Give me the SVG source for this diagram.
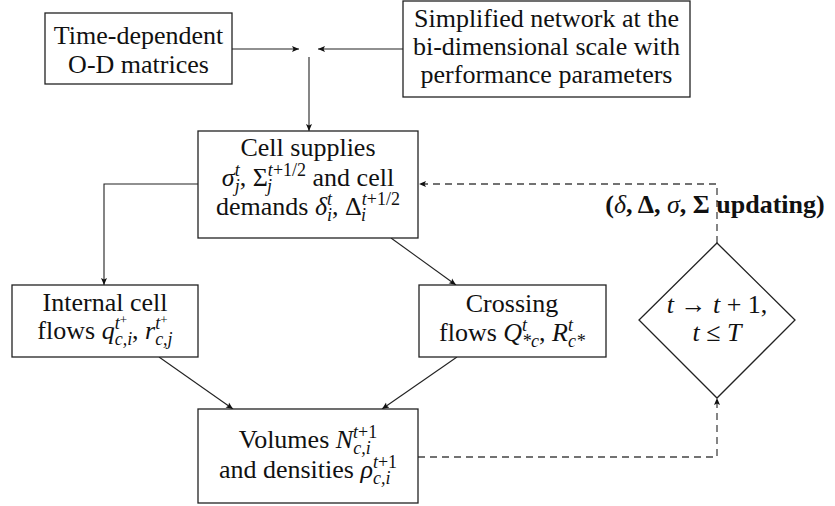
<svg xmlns="http://www.w3.org/2000/svg" width="835" height="506" viewBox="0 0 835 506">
<style>
  .box { fill: #ffffff; stroke: #222; stroke-width: 1.3; }
  .t { font-family: 'Liberation Serif', 'Times New Roman', 'DejaVu Serif', serif; font-size: 26px; fill: #111; text-anchor: middle; }
  .i { font-style: italic; }
  .s { font-size: 18px; }
  .ss { font-size: 13px; }
  .b { font-weight: bold; }
  .line { fill: none; stroke: #222; stroke-width: 1.1; }
  .dash { fill: none; stroke: #444; stroke-width: 1.3; stroke-dasharray: 7 5; }
</style>
<defs>
  <marker id="ah" markerWidth="8" markerHeight="8" refX="7" refY="4" orient="auto" markerUnits="userSpaceOnUse">
    <path d="M0,1 L7,4 L0,7 L1.5,4 Z" fill="#111"/>
  </marker>
</defs>
<rect width="835" height="506" fill="#ffffff"/>

<g id="connectors">
  <line class="line" x1="232" y1="49" x2="299" y2="49" marker-end="url(#ah)"/>
  <line class="line" x1="403" y1="49" x2="318" y2="49" marker-end="url(#ah)"/>
  <line class="line" x1="309" y1="57" x2="309" y2="131" marker-end="url(#ah)"/>
  <polyline class="line" points="198,184 104,184 104,285" marker-end="url(#ah)"/>
  <line class="line" x1="391" y1="238" x2="456" y2="285" marker-end="url(#ah)"/>
  <line class="line" x1="159" y1="357" x2="233" y2="409" marker-end="url(#ah)"/>
  <line class="line" x1="457" y1="357" x2="382" y2="409" marker-end="url(#ah)"/>
  <polyline class="dash" points="418,457 717,457 717,398" marker-end="url(#ah)"/>
  <polyline class="dash" points="717,243 717,184 419,184" marker-end="url(#ah)"/>
</g>

<g id="od-matrices">
  <rect class="box" x="45" y="13" width="187" height="71"/>
  <text class="t" x="138.5" y="44">Time-dependent</text>
  <text class="t" x="138.5" y="73">O-D matrices</text>
</g>

<g id="network">
  <rect class="box" x="403" y="1" width="287" height="96"/>
  <text class="t" x="546.5" y="27">Simplified network at the</text>
  <text class="t" x="546.5" y="55">bi-dimensional scale with</text>
  <text class="t" x="546.5" y="83">performance parameters</text>
</g>

<g id="cell-supplies">
  <rect class="box" x="198" y="131" width="220" height="107"/>
  <text class="t" x="308" y="156">Cell supplies</text>
  <text class="t" x="308" y="186"><tspan class="i">σ</tspan><tspan class="s i" dy="-10">t</tspan><tspan class="s i" dx="-5" dy="16">j</tspan><tspan dy="-6">, Σ</tspan><tspan class="s" dy="-10"><tspan class="i">t</tspan>+1/2</tspan><tspan class="s i" dx="-39" dy="16">j</tspan><tspan dx="34" dy="-6"> and cell</tspan></text>
  <text class="t" x="308" y="215">demands <tspan class="i">δ</tspan><tspan class="s i" dy="-10">t</tspan><tspan class="s i" dx="-5" dy="16">i</tspan><tspan dy="-6">, Δ</tspan><tspan class="s" dy="-10"><tspan class="i">t</tspan>+1/2</tspan><tspan class="s i" dx="-39" dy="16">i</tspan><tspan dx="34" dy="-6"> </tspan></text>
</g>

<g id="internal-flows">
  <rect class="box" x="12" y="285" width="186" height="72"/>
  <text class="t" x="105" y="311">Internal cell</text>
  <text class="t" x="105" y="339">flows <tspan class="i">q</tspan><tspan class="s i" dy="6">c,i</tspan><tspan class="s i" dx="-17.5" dy="-16">t</tspan><tspan class="ss" dy="-5">+</tspan><tspan dx="5" dy="15">, </tspan><tspan class="i">r</tspan><tspan class="s i" dy="6">c,j</tspan><tspan class="s i" dx="-17.5" dy="-16">t</tspan><tspan class="ss" dy="-5">+</tspan><tspan dx="5" dy="15"> </tspan></text>
</g>

<g id="crossing-flows">
  <rect class="box" x="419" y="285" width="187" height="72"/>
  <text class="t" x="512" y="312">Crossing</text>
  <text class="t" x="512" y="341">flows <tspan class="i">Q</tspan><tspan class="s i" dy="6">*c</tspan><tspan class="s i" dx="-17" dy="-16">t</tspan><tspan dx="12" dy="10">, </tspan><tspan class="i">R</tspan><tspan class="s i" dy="6">c*</tspan><tspan class="s i" dx="-17" dy="-16">t</tspan><tspan dx="12" dy="10"> </tspan></text>
</g>

<g id="time-step">
  <polygon points="717,243 795,320 717,398 639,320" fill="#ffffff" stroke="#222" stroke-width="1.3"/>
  <text class="t" x="717" y="313"><tspan class="i">t</tspan> → <tspan class="i">t</tspan> + 1,</text>
  <text class="t" x="717" y="341"><tspan class="i">t</tspan> ≤ <tspan class="i">T</tspan></text>
</g>

<g id="volumes">
  <rect class="box" x="198" y="409" width="220" height="94"/>
  <text class="t" x="308" y="448">Volumes <tspan class="i">N</tspan><tspan class="s" dy="-10"><tspan class="i">t</tspan>+1</tspan><tspan class="s i" dx="-24" dy="16">c,i</tspan><tspan dx="6" dy="-6"> </tspan></text>
  <text class="t" x="308" y="478">and densities <tspan class="i">ρ</tspan><tspan class="s" dy="-10"><tspan class="i">t</tspan>+1</tspan><tspan class="s i" dx="-24" dy="16">c,i</tspan><tspan dx="6" dy="-6"> </tspan></text>
</g>

<g id="update-label">
  <text class="t b" x="715" y="213">(<tspan class="i" font-weight="normal">δ</tspan>, Δ, <tspan class="i" font-weight="normal">σ</tspan>, Σ updating)</text>
</g>
</svg>
